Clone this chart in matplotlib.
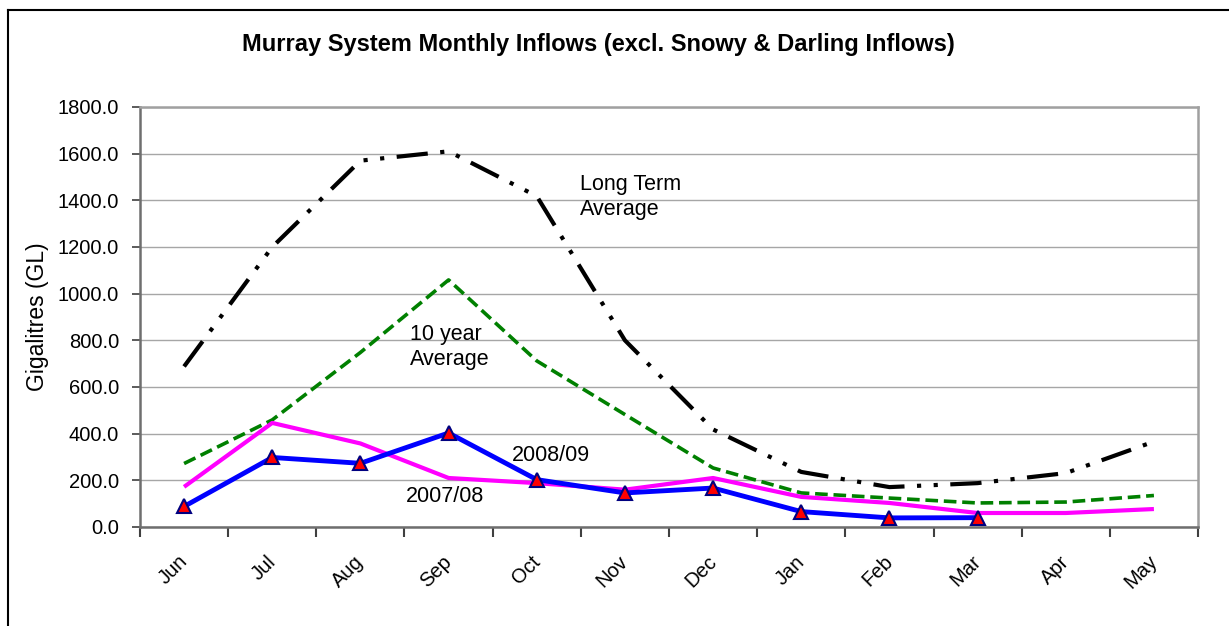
import matplotlib
matplotlib.use('Agg')
import matplotlib.pyplot as plt
from matplotlib.lines import Line2D

plt.rcParams['font.family'] = ['Liberation Sans', 'DejaVu Sans']

months = ['Jun', 'Jul', 'Aug', 'Sep', 'Oct', 'Nov', 'Dec', 'Jan', 'Feb', 'Mar', 'Apr', 'May']
long_term = [688, 1200, 1570, 1610, 1418, 800, 418, 236, 171, 188, 231, 366]
ten_year = [272, 459, 748, 1059, 712, 482, 253, 146, 124, 103, 107, 135]
y2007_08 = [172, 446, 358, 210, 188, 160, 210, 129, 103, 60, 60, 77]
y2008_09 = [88, 298, 273, 403, 203, 146, 167, 66, 39, 40]

fig = plt.figure(figsize=(12.29, 6.26), dpi=100, facecolor='white')
ax = fig.add_axes([140 / 1229, 99 / 626, 1058 / 1229, 420 / 626])

x = list(range(len(months)))

ax.plot(x, long_term, color='black', linewidth=3.0,
        linestyle=(0, (7.5, 3.0, 1.0, 3.0, 1.0, 3.0)), dash_capstyle='butt')
ax.plot(x, ten_year, color='#008000', linewidth=2.6,
        linestyle=(0, (3.5, 1.6)), dash_capstyle='butt')
ax.plot(x, y2007_08, color='#FF00FF', linewidth=3.0, solid_capstyle='butt')
ax.plot(x[:len(y2008_09)], y2008_09, color='#0000FF', linewidth=3.5,
        marker='^', markersize=10, markerfacecolor='#FF0000',
        markeredgecolor='#000080', markeredgewidth=1.5)

ax.text(4.49, 1512, 'Long Term\nAverage', fontsize=15.5, va='top', ha='left',
        linespacing=1.25)
ax.text(2.56, 872, '10 year\nAverage', fontsize=15.5, va='top', ha='left',
        linespacing=1.25)
ax.text(3.72, 350, '2008/09', fontsize=15.5, va='top', ha='left')
ax.text(2.51, 175, '2007/08', fontsize=15.5, va='top', ha='left')

ax.set_xlim(-0.5, 11.5)
ax.set_ylim(0, 1800)
ax.set_yticks(range(0, 1801, 200))
ax.set_yticklabels([f'{v:.1f}' for v in range(0, 1801, 200)], fontsize=14.5)
ax.yaxis.grid(True, color='#A6A6A6', linewidth=1.0)
ax.set_axisbelow(True)

# boundary tick marks, labels sit slightly right of each category centre
ax.set_xticks([i - 0.5 for i in range(13)])
ax.set_xticklabels([])
ax.set_xticks([i + 0.08 for i in x], minor=True)
ax.set_xticklabels(months, minor=True, rotation=45, fontsize=14.5,
                   ha='right', va='top')
ax.tick_params(axis='x', which='major', length=7, width=1.5, color='#404040')
ax.tick_params(axis='x', which='minor', length=0, pad=18)
ax.tick_params(axis='y', length=6, width=1.2, color='#404040', pad=9)

for side in ['left', 'bottom']:
    ax.spines[side].set_color('#6E6E6E')
    ax.spines[side].set_linewidth(1.8)
for side in ['top', 'right']:
    ax.spines[side].set_color('#A0A0A0')
    ax.spines[side].set_linewidth(1.8)

ax.set_ylabel('Gigalitres (GL)', fontsize=16.5, labelpad=6)

fig.text(598 / 1229, 1 - 45 / 626, 'Murray System Monthly Inflows (excl. Snowy & Darling Inflows)',
         fontsize=17, fontweight='bold', ha='center', va='center')

# outer chart frame
fig.add_artist(Line2D([8 / 1229, 8 / 1229], [0, 1 - 10 / 626], color='black', linewidth=1.5))
fig.add_artist(Line2D([8 / 1229, 1], [1 - 10 / 626, 1 - 10 / 626], color='black', linewidth=1.5))

fig.savefig('out.png', dpi=100, facecolor='white')
